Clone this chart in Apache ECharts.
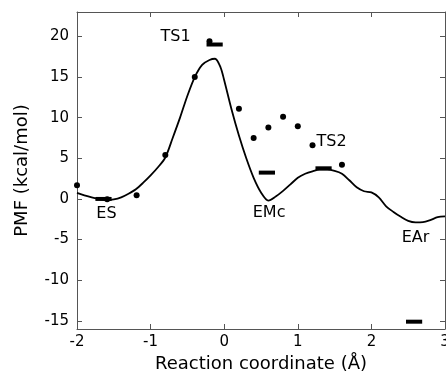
<!DOCTYPE html>
<html><head><meta charset="utf-8">
<script src="https://cdn.jsdelivr.net/npm/echarts@6/dist/echarts.min.js"></script>
<style>html,body{margin:0;padding:0;background:#fff}#c{width:446px;height:373px}</style>
</head><body><div id="c"></div>
<script>
// PMF curve
const curveX = [-2.0,-1.9,-1.8,-1.7,-1.6,-1.5,-1.4,-1.3,-1.2,-1.1,-1.0,-0.9,-0.8,-0.7,-0.6,-0.5,-0.4,-0.3,-0.2,-0.125,-0.05,0.0,0.1,0.2,0.3,0.4,0.5,0.6,0.7,0.8,0.9,1.0,1.1,1.2,1.3,1.4,1.5,1.6,1.7,1.8,1.9,2.0,2.1,2.2,2.3,2.4,2.5,2.6,2.7,2.8,2.9,3.0];
const curveY = [0.74,0.45,0.2,0.0,-0.12,-0.05,0.2,0.65,1.2,2.0,2.9,3.9,5.1,7.5,10.0,12.7,15.0,16.5,17.1,17.25,16.2,14.6,11.0,7.8,5.0,2.6,0.8,-0.2,0.3,1.0,1.8,2.6,3.1,3.4,3.6,3.6,3.45,3.1,2.3,1.43,0.95,0.8,0.2,-0.9,-1.6,-2.2,-2.7,-2.88,-2.85,-2.6,-2.25,-2.15];
// dots
const pointsX = [-2.0,-1.59,-1.19,-0.8,-0.4,-0.2,0.2,0.4,0.6,0.8,1.0,1.2,1.6];
const pointsY = [1.7,-0.05,0.45,5.4,15.0,19.4,11.1,7.5,8.8,10.1,8.95,6.6,4.2];
// horizontal bars
const barStart = [-1.75,-0.24,0.47,1.24,2.47];
const barEnd   = [-1.53,-0.02,0.69,1.46,2.69];
const barLevel = [0.0,19.0,3.24,3.77,-15.1];
// state labels
const labelNames = ['ES','TS1','EMc','TS2','EAr'];
const labelX = [-1.6,-0.66,0.61,1.46,2.6];
const labelY = [-1.85,20.0,-1.77,7.05,-4.8];
// ticks
const xTicks = [-2,-1,0,1,2,3];
const yTicks = [-15,-10,-5,0,5,10,15,20];

const FONT = 'DejaVu Sans';
const axisLineStyle = {color:'#555', width:1};
function xAx(pos, showLabel, name){
  return {type:'value', position:pos, min:-2, max:3, interval:1,
    name: name||'', nameLocation:'middle', nameGap:22,
    nameTextStyle:{fontFamily:FONT, fontSize:18, color:'#000'},
    axisLine:{show:true, onZero:false, lineStyle:axisLineStyle},
    axisTick:{show:true, inside:true, length:5, lineStyle:axisLineStyle},
    axisLabel:{show:showLabel, fontFamily:FONT, fontSize:15, color:'#000', margin:6},
    splitLine:{show:false}};
}
function yAx(pos, showLabel, name){
  return {type:'value', position:pos, min:-16, max:23,
    name: name||'', nameLocation:'middle', nameGap:46,
    nameTextStyle:{fontFamily:FONT, fontSize:18, color:'#000'},
    axisLine:{show:true, onZero:false, lineStyle:axisLineStyle},
    axisTick:{show:true, inside:true, length:5, lineStyle:axisLineStyle, customValues:yTicks},
    axisLabel:{show:showLabel, fontFamily:FONT, fontSize:15, color:'#000', margin:8, customValues:yTicks},
    splitLine:{show:false}};
}
const series = [
  {type:'line', data:curveX.map((x,i)=>[x,curveY[i]]), smooth:0.3, symbol:'none',
   lineStyle:{color:'#000', width:1.8}, z:3},
  {type:'scatter', data:pointsX.map((x,i)=>[x,pointsY[i]]), symbolSize:6,
   itemStyle:{color:'#000', opacity:1}, z:4}
];
barStart.forEach((s,i)=>{
  series.push({type:'line', data:[[s,barLevel[i]],[barEnd[i],barLevel[i]]], symbol:'none',
    lineStyle:{color:'#000', width:4, cap:'butt'}, z:4});
});
series.push({type:'scatter', symbolSize:0, z:5, itemStyle:{opacity:1},
  data:labelNames.map((n,i)=>({name:n, value:[labelX[i],labelY[i]]})),
  label:{show:true, position:'inside', formatter:p=>p.name, fontFamily:FONT, fontSize:16, color:'#000', opacity:1}});

const chart = echarts.init(document.getElementById('c'), null, {renderer:'canvas'});
chart.setOption({
  backgroundColor:'#fff',
  animation:false,
  grid:{left:77, right:1, top:12, bottom:44, containLabel:false, outerBoundsMode:'none'},
  xAxis:[xAx('bottom', true, 'Reaction coordinate (Å)'), xAx('top', false)],
  yAxis:[yAx('left', true, 'PMF (kcal/mol)'), yAx('right', false)],
  series: series
});
</script></body></html>
